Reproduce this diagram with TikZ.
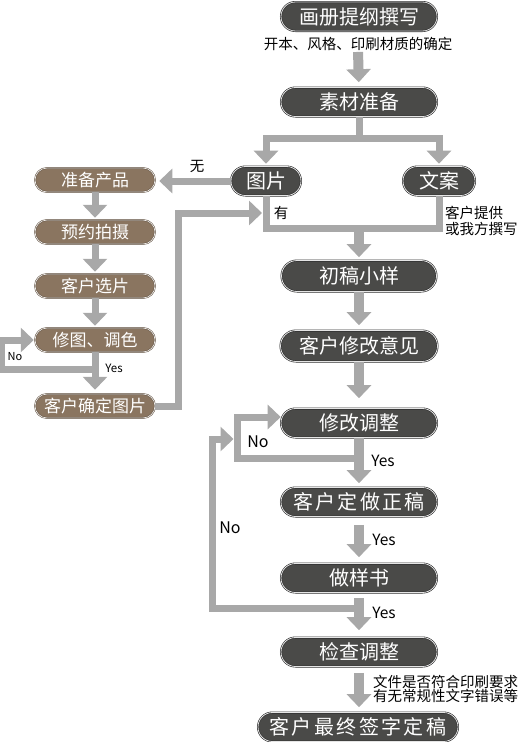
\documentclass[tikz,border=0pt]{standalone}
\usepackage{fontspec}
\setmainfont{Noto Sans CJK SC}
\newfontfamily\largo[LetterSpace=12]{Noto Sans CJK SC}
\usetikzlibrary{arrows.meta,shapes.misc,calc}

\definecolor{scuro}{HTML}{4A4A48}
\definecolor{bordo}{HTML}{2E2E2E}
\definecolor{marrone}{HTML}{8A7560}
\definecolor{freccia}{HTML}{A8A8A8}

\tikzset{
  darkbox/.style={rounded rectangle, fill=scuro, draw=bordo, double=white!80!gray,
    double distance=0.8pt, line width=0.6pt, text=white,
    font=\fontsize{20}{24}\selectfont, minimum height=29pt, inner sep=0pt},
  brownbox/.style={rounded rectangle, fill=marrone, draw=marrone!70!black,
    double=white!85!marrone, double distance=0.7pt, line width=0.5pt, text=white,
    font=\fontsize{17}{20}\selectfont, minimum width=120pt, minimum height=24pt, inner sep=0pt},
  arr/.style={draw=freccia, line width=7pt, -{Triangle[width=24pt,length=13pt]}},
  bigarr/.style={arr, line width=10pt},
  flow/.style={draw=freccia, line width=7pt},
  nota/.style={font=\fontsize{14.5}{16}\selectfont, inner sep=0pt},
  yes/.style={font=\fontsize{15.5}{18}\selectfont, inner sep=0pt},
  no/.style={font=\fontsize{16}{18}\selectfont, inner sep=0pt},
}

\begin{document}
\begin{tikzpicture}[x=1pt, y=-1pt]

    \useasboundingbox (0,0) rectangle (519,742);

    % Colonna destra
    \node[darkbox, minimum width=156pt] (huace) at (359,16.5) {画册提纲撰写};
    \node[nota] (nota1) at (358,44) {开本、风格、印刷材质的确定};
    \node[darkbox, minimum width=156pt] (sucai) at (359,102) {素材准备};
    \node[darkbox, minimum width=70pt] (tupian) at (266,181) {图片};
    \node[darkbox, minimum width=72pt] (wenan) at (439,181) {文案};
    \node[nota, anchor=west, align=left] (nota2) at (445,221) {客户提供\\或我方撰写};
    \node[darkbox, minimum width=155pt, minimum height=31pt] (chugao) at (359,276) {初稿小样};
    \node[darkbox, minimum width=157pt, minimum height=31pt] (kehu) at (359,346) {客户修改意见};
    \node[darkbox, minimum width=156pt] (xiugai) at (359,423) {修改调整};
    \node[darkbox, minimum width=156pt] (zhenggao) at (359,502) {\largo 客户定做正稿};
    \node[darkbox, minimum width=156pt] (yangshu) at (359,578) {做样书};
    \node[darkbox, minimum width=156pt] (jiancha) at (359,652) {检查调整};
    \node[nota, anchor=west, align=left, font=\fontsize{14.5}{14}\selectfont]
        (nota3) at (373,689) {文件是否符合印刷要求\\有无常规性文字错误等};
    \node[darkbox, minimum width=200pt] (dinggao) at (358,727) {\largo 客户最终签字定稿};

    % Colonna sinistra
    \node[brownbox] (prodotti) at (95,180) {准备产品};
    \node[brownbox] (foto) at (95,232) {预约拍摄};
    \node[brownbox] (scelta) at (95,286) {客户选片};
    \node[brownbox] (ritocco) at (95,340) {修图、调色};
    \node[brownbox] (conferma) at (95,406) {客户确定图片};

    % Punti di snodo
    \coordinate (bivio) at (359,138);
    \coordinate (unione) at (359,228);
    \coordinate (youin) at (262,213);
    \coordinate (noA) at (359,458);
    \coordinate (noB) at (359,608);
    \coordinate (rientro) at (233.5,439);
    \coordinate (noC) at (95,369);

    % Frecce colonna destra
    \draw[bigarr, shorten <=1pt, shorten >=5pt] (nota1.south) -- (sucai.north);
    \draw[flow] (sucai.south) -- ($(bivio)+(0,3.5)$);
    \draw[arr, shorten >=2.5pt] (bivio) -| (tupian.north);
    \draw[arr, shorten >=2.5pt] (bivio) -| (wenan.north);
    \draw[flow] (tupian.south) |- (unione) -| (wenan.south);
    \draw[bigarr, shorten >=3pt] (unione) -- (chugao.north);
    \draw[bigarr, shorten >=5pt] (chugao.south) -- (kehu.north);
    \draw[bigarr, shorten >=10pt] (kehu.south) -- (xiugai.north);
    \draw[bigarr, shorten >=4pt] (xiugai.south) -- (zhenggao.north);
    \draw[bigarr, shorten <=8pt, shorten >=6pt] (zhenggao.south) -- (yangshu.north);
    \draw[bigarr, shorten <=5pt, shorten >=7pt] (yangshu.south) -- (jiancha.north);
    \draw[bigarr, shorten <=6pt, shorten >=5pt] (jiancha.south) -- (jiancha.south |- dinggao.north);

    % Anelli No
    \draw[arr] (noA) -- ++(-122,0) |- ([yshift=6pt]xiugai.west);
    \draw[arr] (noB) -- ++(-147,0) |- (rientro);

    % Frecce colonna sinistra
    \draw[arr, shorten >=4pt] (tupian.west) -- (tupian.west -| prodotti.east);
    \draw[arr, shorten >=2pt] (prodotti.south) -- (foto.north);
    \draw[arr, shorten >=2pt] (foto.south) -- (scelta.north);
    \draw[arr, shorten >=2pt] (scelta.south) -- (ritocco.north);
    \draw[arr, shorten >=4pt] (ritocco.south) -- (conferma.north);
    \draw[arr, shorten >=1pt] (noC) -- ++(-93.5,0) |- (ritocco.west);
    \draw[arr] (conferma.east) -- ++(23,0) |- (youin);

    % Etichette
    \node[nota] (wu) at (197,166) {无};
    \node[nota] (you) at (281,213) {有};
    \node[no, font=\fontsize{11}{13}\selectfont] (noL) at (15,357) {No};
    \node[yes, font=\fontsize{11.5}{13}\selectfont] (yesL) at (114,368) {Yes};
    \node[no] (noR1) at (258,442) {No};
    \node[no] (noR2) at (230,528) {No};
    \node[yes] (yes1) at (383,461) {Yes};
    \node[yes] (yes2) at (384,540) {Yes};
    \node[yes] (yes3) at (384,613) {Yes};

\end{tikzpicture}
\end{document}
